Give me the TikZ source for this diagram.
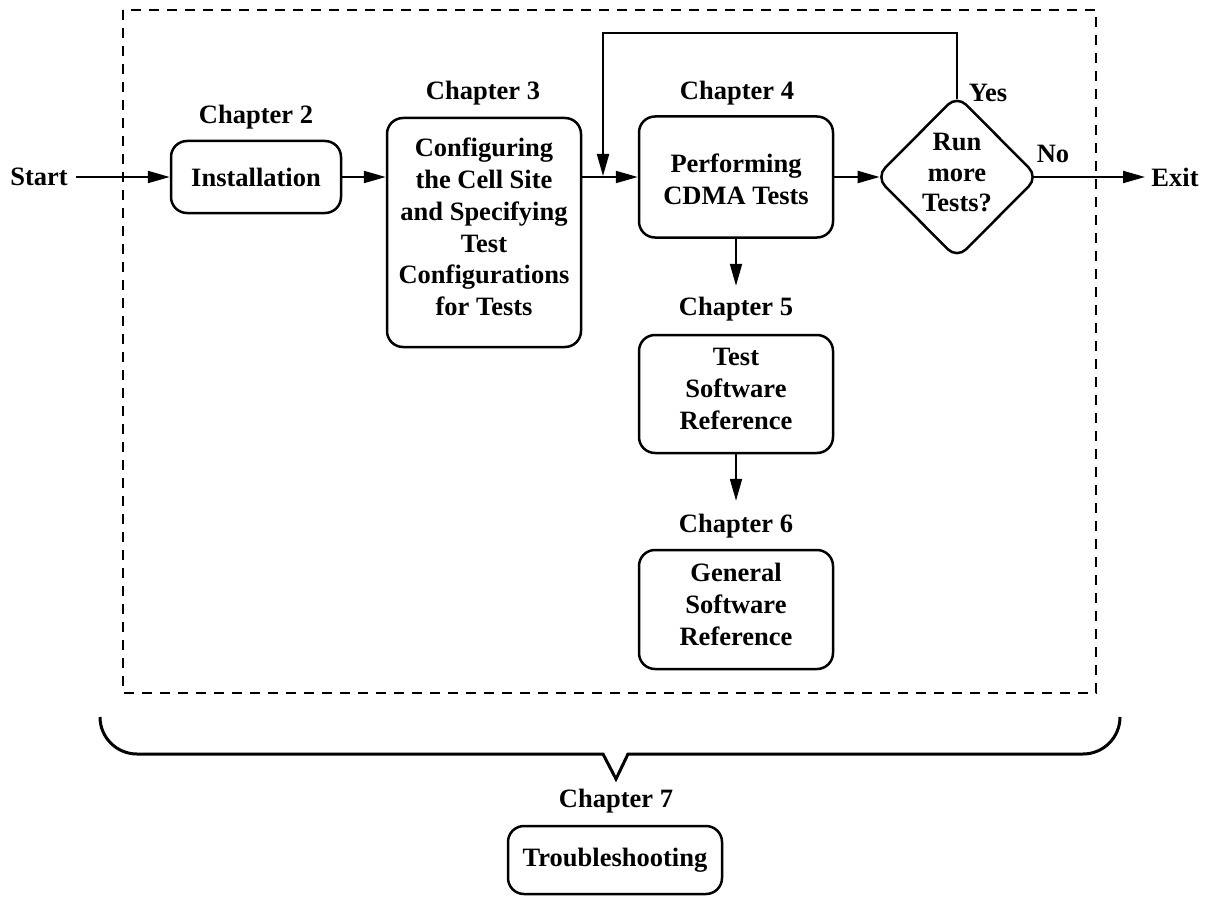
\documentclass[tikz,border=0pt]{standalone}
\usepackage{fontspec}
\setmainfont{LiberationSerif}[Extension=.ttf, UprightFont=*-Regular, BoldFont=*-Bold, ItalicFont=*-Italic, BoldItalicFont=*-BoldItalic]
\usetikzlibrary{arrows.meta,shapes.geometric}
\begin{document}
\begin{tikzpicture}[x=1pt,y=-1pt,
  every node/.style={font=\fontsize{26.5}{31.8}\selectfont\bfseries},
  box/.style={draw, line width=2.5pt, rounded corners=16pt, align=center, inner sep=0},
  txt/.style={inner sep=0, align=center},
  arr/.style={line width=2pt, -{Triangle[length=22pt,width=12pt]}},
  frame/.style={line width=2pt, dash pattern=on 10pt off 8pt},
  brace/.style={line width=3pt, line join=miter}]
\useasboundingbox (0,0) rectangle (1206,896);

% dashed frame
\draw[frame] (123,10) rectangle (1096,693);

% boxes
\node[box, minimum width=170pt, minimum height=72pt] (inst) at (256,177) {Installation};
\node[box, minimum width=194pt, minimum height=229pt] (c3) at (484,232.5) {};
\node[txt] (c3t) at (484,227) {Configuring\\the Cell Site\\and Specifying\\Test\\Configurations\\for Tests};
\node[box, minimum width=194pt, minimum height=121pt] (c4) at (736,177) {};
\node[txt] (c4t) at (736,179.5) {Performing\\CDMA Tests};
\node[box, minimum width=194pt, minimum height=118pt] (c5) at (736,394) {};
\node[txt] (c5t) at (736,389) {Test\\Software\\Reference};
\node[box, minimum width=194pt, minimum height=119pt] (c6) at (736,609.5) {};
\node[txt] (c6t) at (736,604.5) {General\\Software\\Reference};
\node[box, minimum width=214pt, minimum height=68pt] (c7) at (615,860) {Troubleshooting};

% decision
\node[draw, diamond, line width=2.5pt, rounded corners=13pt, minimum width=163pt, minimum height=164pt, inner sep=0] (d) at (957,177) {};
\node[txt, font=\fontsize{26.5}{30.5}\selectfont\bfseries] (dtext) at (957,173) {Run\\more\\Tests?};

% labels
\node[txt] (l2) at (256,117) {Chapter 2};
\node[txt] (l3) at (483,93) {Chapter 3};
\node[txt] (l4) at (737,93) {Chapter 4};
\node[txt] (l5) at (736,309) {Chapter 5};
\node[txt] (l6) at (736,526) {Chapter 6};
\node[txt] (l7) at (616,801) {Chapter 7};
\node[txt] (start) at (39,177) {Start};
\node[txt] (exit) at (1175,177) {Exit};
\node[txt] (yes) at (988,93) {Yes};
\node[txt] (no) at (1053,154) {No};

% connectors
\coordinate (join) at (603,176);
\coordinate (looptop) at (603,33);
\draw[arr] ([xshift=8pt]start.east) -- (inst.west);
\draw[arr] (inst.east) -- (c3.west |- inst.east);
\draw[arr] (c3.east |- c4.west) -- (c4.west);
\draw[arr, shorten >=-5.4pt] (c4.east) -- (d.west);
\draw[arr, shorten <=-5.4pt] (d.east) -- (exit.west -| 1145,0);
\draw[arr, shorten <=-5.4pt] (d.north) |- (looptop) -- (join);
\draw[arr] (c4.south) -- ([yshift=11pt]l5.north);
\draw[arr] (c5.south) -- ([yshift=13pt]l6.north);

% brace
\draw[brace] (100,717) arc[start angle=180, end angle=90, radius=37]
  -- (603,754) -- (616,779) -- (628,754) -- (1083,754)
  arc[start angle=90, end angle=0, radius=37];
\end{tikzpicture}
\end{document}
